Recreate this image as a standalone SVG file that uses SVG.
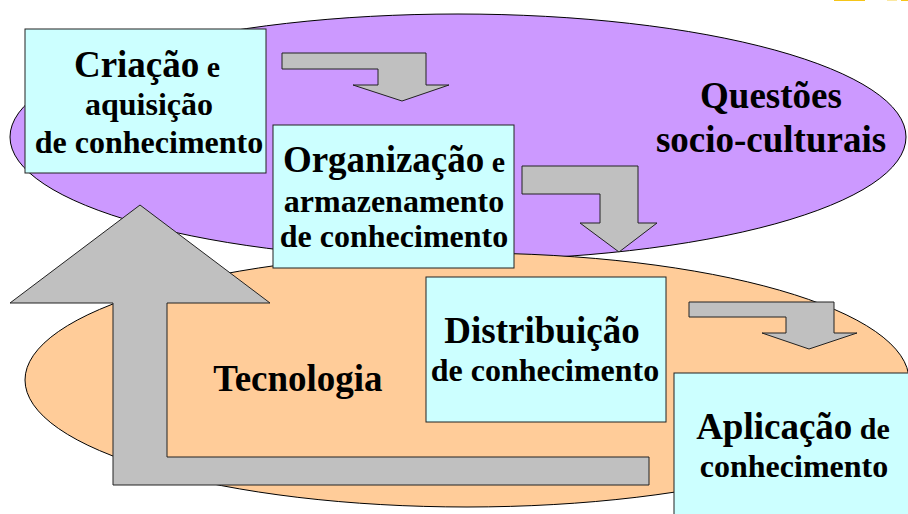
<svg xmlns="http://www.w3.org/2000/svg" width="908" height="514" viewBox="0 0 908 514">
<style>
.ell{stroke:#000;stroke-width:1}
.box{fill:#CCFFFF;stroke:#222;stroke-width:1}
.arr{fill:#C0C0C0;stroke:#222;stroke-width:1;stroke-linejoin:miter}
text{font-family:"Liberation Serif","Times New Roman",serif;font-weight:bold;fill:#000;text-anchor:middle}
.big{font-size:37px}
.mid{font-size:32px}
.sm{font-size:30px}
</style>
<rect x="0" y="0" width="908" height="514" fill="#fff"/>
<rect x="834" y="0" width="31" height="1" fill="#F5C518"/>
<rect x="887" y="0" width="10" height="1" fill="#FBE8A0"/>
<rect x="901" y="0" width="7" height="1" fill="#F5C518"/>
<g id="questoes">
<ellipse class="ell" cx="458" cy="137" rx="448" ry="123" fill="#CC99FF"/>
<text class="big" x="771" y="108">Questões</text>
<text class="big" x="771" y="152">socio-culturais</text>
</g>
<g id="tecnologia">
<ellipse class="ell" cx="467" cy="380" rx="442" ry="127" fill="#FFCC99"/>
</g>
<g id="connectors">
<polygon class="arr" points="140,205 270,303 167,303 167,457 649,457 649,485 113,485 113,303 10,303"/>
<polygon class="arr" points="282,53 426,53 426,85 449,85 402,101 353,85 378,85 378,69 282,69"/>
<polygon class="arr" points="522,166 638,166 638,223 657,223 619,252 580,223 600,223 600,194 522,194"/>
<polygon class="arr" points="689,302 834,302 834,333 857,333 809,349 762,333 786,333 786,317 689,317"/>
</g>
<text class="big" x="298" y="391">Tecnologia</text>
<g id="criacao">
<rect class="box" x="25" y="29" width="241" height="144"/>
<text x="147" y="77"><tspan class="big">Criação</tspan><tspan class="sm"> e</tspan></text>
<text class="mid" x="149" y="115">aquisição</text>
<text class="mid" x="149" y="153">de conhecimento</text>
</g>
<g id="organizacao">
<rect class="box" x="273" y="125" width="241" height="143"/>
<text x="394" y="172"><tspan class="big">Organização</tspan><tspan class="sm"> e</tspan></text>
<text class="mid" x="394" y="212">armazenamento</text>
<text class="mid" x="394" y="247">de conhecimento</text>
</g>
<g id="distribuicao">
<rect class="box" x="426" y="277" width="240" height="145"/>
<text class="big" x="542" y="343">Distribuição</text>
<text class="mid" x="545" y="381">de conhecimento</text>
</g>
<g id="aplicacao">
<rect class="box" x="674" y="373" width="240" height="150"/>
<text x="793" y="439"><tspan class="big">Aplicação</tspan><tspan class="sm"> de</tspan></text>
<text class="mid" x="794" y="477">conhecimento</text>
</g>
</svg>
